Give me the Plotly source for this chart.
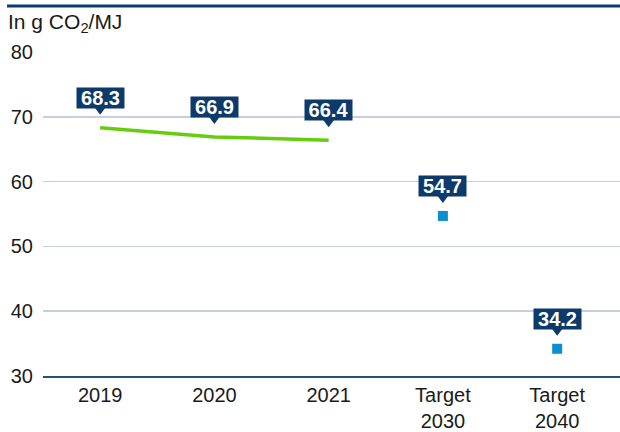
import plotly.graph_objects as go

categories = ["2019", "2020", "2021", "Target<br>2030", "Target<br>2040"]
actual_values = [68.3, 66.9, 66.4, None, None]
target_values = [None, None, None, 54.7, 34.2]
y_ticks = [30, 40, 50, 60, 70, 80]

NAVY = "#0c3a6b"
FONT = "Liberation Sans, Arial, sans-serif"

W, H = 620, 432
L, R, T, B = 43, 0, 52, 56
PW, PH = W - L - R, H - T - B

fig = go.Figure()
fig.add_trace(go.Scatter(
    x=categories, y=actual_values, mode="lines",
    line=dict(color="#66cc0e", width=3.5), hoverinfo="skip", showlegend=False,
))
fig.add_trace(go.Scatter(
    x=categories, y=target_values, mode="markers",
    marker=dict(symbol="square", size=10, color="#0a8fd0"),
    hoverinfo="skip", showlegend=False,
))

for i, (a, t) in enumerate(zip(actual_values, target_values)):
    v = a if a is not None else t
    fig.add_annotation(
        x=i, y=v, text=f"<b>{v:.1f}</b>", showarrow=False,
        font=dict(family=FONT, size=20, color="white"),
        bgcolor=NAVY, borderpad=1, width=45, height=18,
        yshift=30, xanchor="center", yanchor="middle",
    )
    fig.add_shape(
        type="path", xref="x", yref="y", xsizemode="pixel", ysizemode="pixel",
        xanchor=i, yanchor=v, path="M-6,21 L6,21 L0,13 Z",
        fillcolor=NAVY, line=dict(width=0),
    )

# top rule (page y ~6, x from 7)
fig.add_shape(type="line", xref="paper", yref="paper",
              x0=(7 - L) / PW, x1=1.0,
              y0=(H - B - 6) / PH, y1=(H - B - 6) / PH,
              line=dict(color=NAVY, width=3))
fig.add_annotation(
    xref="paper", yref="paper", x=(6 - L) / PW,
    y=(H - B - 23) / PH, xanchor="left", yanchor="middle",
    text="In g CO<sub>2</sub>/MJ", showarrow=False,
    font=dict(family=FONT, size=21, color="#1a1a1a"),
)

fig.update_layout(
    width=W, height=H,
    margin=dict(l=L, r=R, t=T, b=B),
    plot_bgcolor="white", paper_bgcolor="white",
    font=dict(family=FONT, size=20, color="#1a1a1a"),
    xaxis=dict(
        type="category", categoryorder="array", categoryarray=categories,
        range=[-0.5, 4.55], showgrid=False, zeroline=False,
        showline=True, linecolor="#234f82", linewidth=1.5, ticks="",
        tickfont=dict(size=20),
    ),
    yaxis=dict(
        range=[30, 80], tickvals=y_ticks, showgrid=True, gridcolor="#c6d0dc",
        gridwidth=1.5, zeroline=False, showline=False, ticks="",
        ticklabelstandoff=9, tickfont=dict(size=20),
    ),
)

fig.write_html(
    "out.html",
    config={"displayModeBar": False, "staticPlot": True},
    post_script="document.body.style.margin='0';document.body.style.overflow='hidden';",
)
